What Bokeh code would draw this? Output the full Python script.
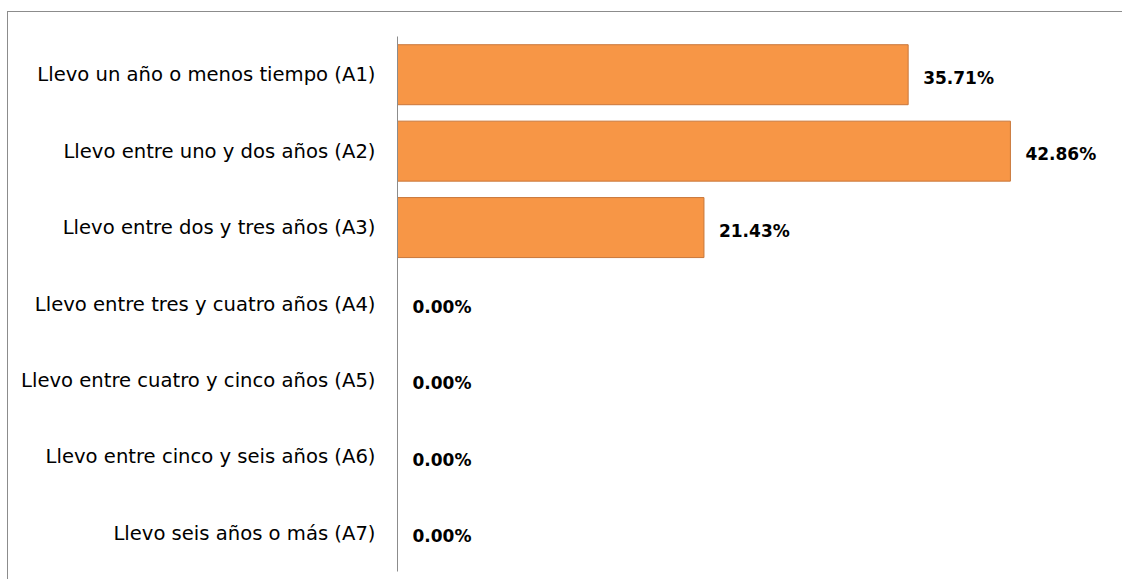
from bokeh.plotting import figure
from bokeh.models import ColumnDataSource, Range1d
from bokeh.core.properties import value
from bokeh.embed import file_html
from bokeh.resources import INLINE

categories = [
    "Llevo un año o menos tiempo (A1)",
    "Llevo entre uno y dos años (A2)",
    "Llevo entre dos y tres años (A3)",
    "Llevo entre tres y cuatro años (A4)",
    "Llevo entre cuatro y cinco años (A5)",
    "Llevo entre cinco y seis años (A6)",
    "Llevo seis años o más (A7)",
]
values = [35.71, 42.86, 21.43, 0.00, 0.00, 0.00, 0.00]
labels = ["%.2f%%" % v for v in values]

source = ColumnDataSource(data=dict(cat=categories, val=values, lab=labels))

p = figure(
    y_range=list(reversed(categories)),
    x_range=Range1d(0, 49.16),
    frame_width=703,
    frame_height=535,
    min_border_left=389,
    min_border_right=22,
    min_border_top=24,
    min_border_bottom=8,
    output_backend="svg",
    toolbar_location=None,
)
p.styles = {
    "border-left": "1px solid #8c8c8c",
    "border-top": "1px solid #8c8c8c",
    "margin-left": "7px",
    "margin-top": "11px",
}

p.hbar(y="cat", right="val", left=0, height=0.785, source=source,
       fill_color="#F79646", line_color="#C9773A", line_width=1)

p.text(x="val", y="cat", text="lab", source=source,
       x_offset=15, y_offset=3, text_baseline="middle", text_align="left",
       text_font=value("DejaVu Sans"), text_font_style="bold",
       text_font_size="17px", text_color="#000000")

p.xaxis.visible = False
p.xgrid.visible = False
p.ygrid.visible = False
p.outline_line_color = None

ax = p.yaxis[0]
ax.axis_line_color = "#8c8c8c"
ax.axis_line_width = 1
ax.major_tick_line_color = None
ax.minor_tick_line_color = None
ax.major_label_standoff = 16
ax.major_label_text_font = "DejaVu Sans"
ax.major_label_text_font_size = "19.6px"
ax.major_label_text_color = "#000000"

open("out.html", "w").write(file_html(p, INLINE))
